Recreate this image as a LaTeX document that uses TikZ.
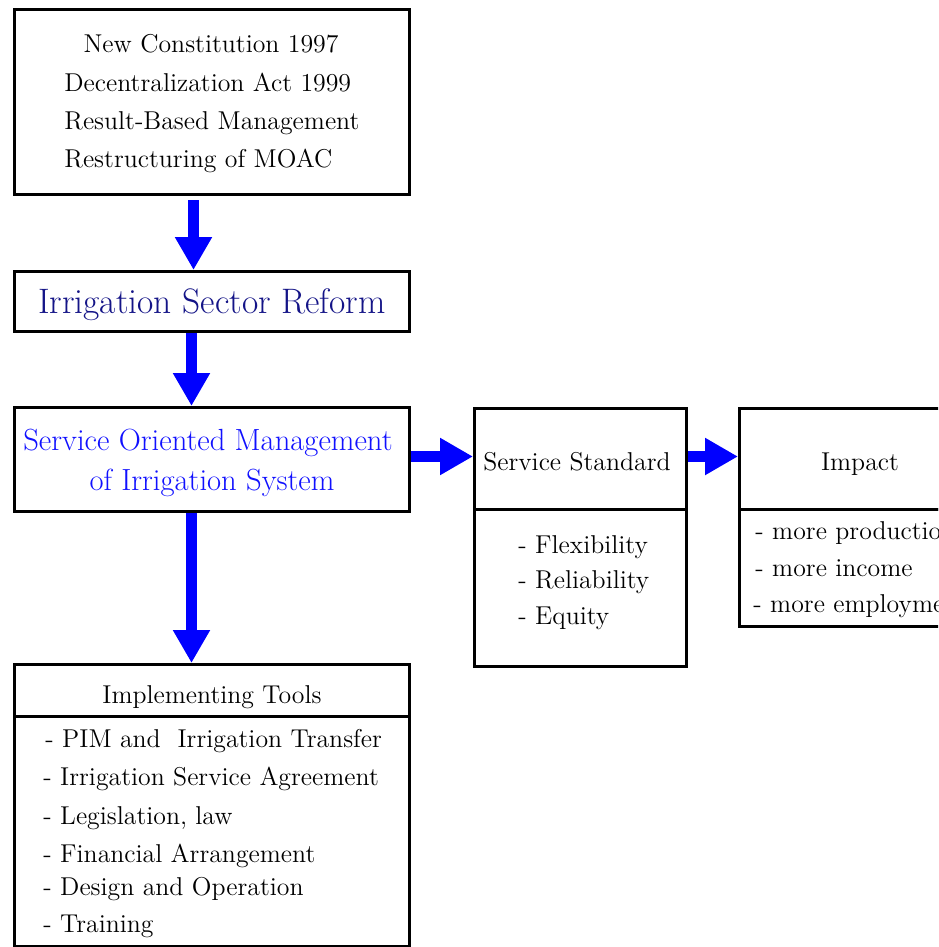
\documentclass[tikz,border=0pt]{standalone}
\usepackage{fontspec}
\newfontfamily\boxfont{Latin Modern Roman}
\usetikzlibrary{arrows.meta}
\definecolor{flowblue}{HTML}{0000FF}
\definecolor{navytext}{HTML}{141487}
\definecolor{bluetext}{HTML}{1010FF}
\tikzset{
  box/.style={draw, line width=1.5pt, rectangle, inner sep=0pt, anchor=north west},
  txt/.style={inner sep=0pt, anchor=base, font=\boxfont\fontsize{12.9}{15}\selectfont},
  ltxt/.style={txt, anchor=base west},
  flow/.style={draw=flowblue, line width=5.5pt, -{Triangle[width=17.5pt,length=16.5pt]}},
}
\begin{document}
\begin{tikzpicture}[x=0.5pt, y=-0.5pt]
\useasboundingbox (0,0) rectangle (938,947);
\clip (0,0) rectangle (938,947);
\fill[white] (0,0) rectangle (938,947);

% left column boxes
\node[box, minimum width=197.5pt, minimum height=92.5pt] (drivers) at (13,8) {};
\node[box, minimum width=197.5pt, minimum height=30pt] (reform) at (13,270) {};
\node[box, minimum width=197.5pt, minimum height=52pt] (som) at (13,406) {};
\node[box, minimum width=197.5pt, minimum height=26pt] (toolshead) at (13,663) {};
\node[box, minimum width=197.5pt, minimum height=115pt] (toolsbody) at (13,715) {};

% service standard
\node[box, minimum width=106pt, minimum height=50.5pt] (stdhead) at (473,407) {};
\node[box, minimum width=106pt, minimum height=78.5pt] (stdbody) at (473,508) {};

% impact
\node[box, minimum width=122pt, minimum height=50.5pt] (imphead) at (738,407) {};
\node[box, minimum width=122pt, minimum height=58.5pt] (impbody) at (738,508) {};

% texts of the drivers box
\node[txt] (d1) at (211,53) {New Constitution 1997};
\node[ltxt] (d2) at (64,92) {Decentralization Act 1999};
\node[ltxt] (d3) at (64,130) {Result-Based Management};
\node[ltxt] (d4) at (64,167) {Restructuring of MOAC};

\node[txt, font=\boxfont\fontsize{17.7}{20}\selectfont, text=navytext] (reformtxt) at (212,313) {Irrigation Sector Reform};

\node[txt, font=\boxfont\fontsize{15.3}{18}\selectfont, text=bluetext] (som1) at (208,450) {Service Oriented Management};
\node[txt, font=\boxfont\fontsize{15.3}{18}\selectfont, text=bluetext] (som2) at (212,490) {of Irrigation System};

\node[txt] (toolstitle) at (212,703) {Implementing Tools};
\node[ltxt] (t1) at (45,747) {- PIM and~ Irrigation Transfer};
\node[ltxt] (t2) at (43,785) {- Irrigation Service Agreement};
\node[ltxt] (t3) at (43,824) {- Legislation, law};
\node[ltxt] (t4) at (43,862) {- Financial Arrangement};
\node[ltxt] (t5) at (43,895) {- Design and Operation};
\node[ltxt] (t6) at (43,932) {- Training};

\node[txt] (stdtitle) at (577,470) {Service Standard};
\node[ltxt] (s1) at (518,553) {- Flexibility};
\node[ltxt] (s2) at (518,588) {- Reliability};
\node[ltxt] (s3) at (518,624) {- Equity};

\node[txt] (imptitle) at (860,470) {Impact};
\node[ltxt] (i1) at (755,539) {- more production};
\node[ltxt] (i2) at (755,576) {- more income};
\node[ltxt] (i3) at (753,612) {- more employment};

% connectors
\draw[flow, shorten <=2pt] ([xshift=-9.25pt]drivers.south) -- ([xshift=-9.25pt]reform.north);
\draw[flow] ([xshift=-10.25pt]reform.south) -- ([xshift=-10.25pt]som.north);
\draw[flow] ([xshift=-10.25pt]som.south) -- ([xshift=-10.25pt]toolshead.north);
\draw[flow] ([yshift=1.5pt]som.east) -- ([yshift=1.25pt]stdhead.west);
\draw[flow] ([yshift=1.25pt]stdhead.east) -- ([yshift=1.25pt]imphead.west);
\end{tikzpicture}
\end{document}
